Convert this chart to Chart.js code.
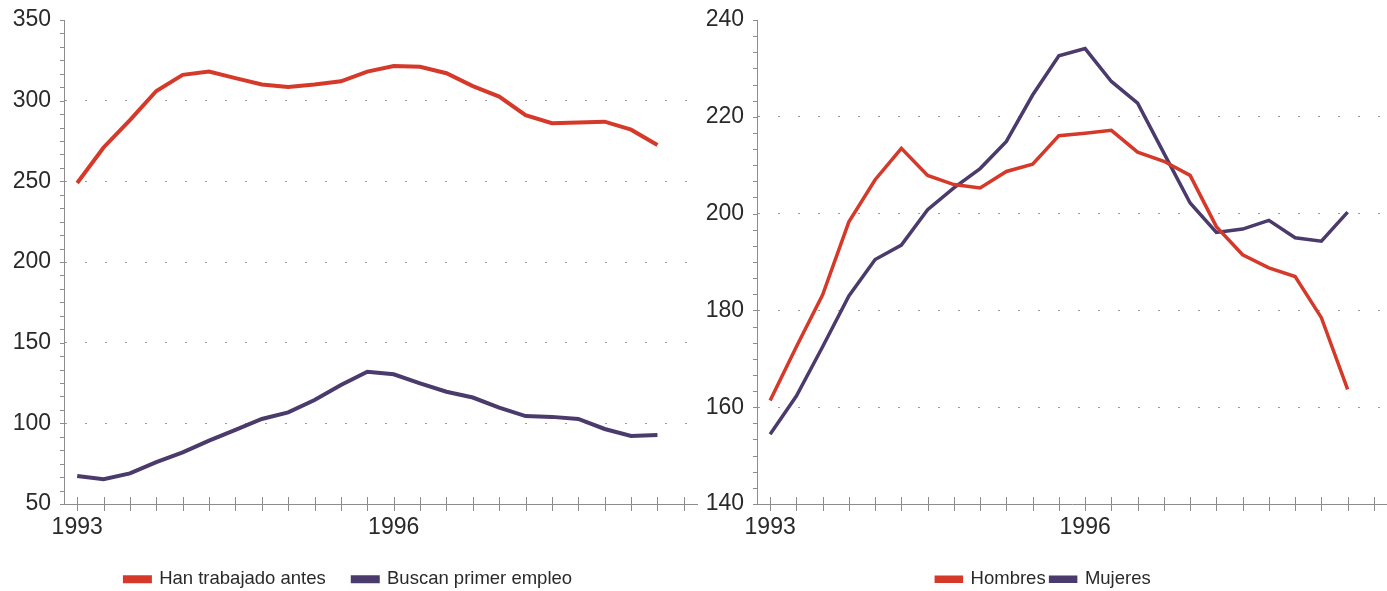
<!DOCTYPE html>
<html>
<head>
<meta charset="utf-8">
<script src="https://cdn.jsdelivr.net/npm/chart.js@4.4.1/dist/chart.umd.min.js"></script>
<style>
  body { margin: 0; background: #fff; }
  .panel { position: absolute; top: 0; height: 591px; }
  #left { left: 0; width: 700px; }
  #right { left: 700px; width: 687px; }
</style>
</head>
<body>
<div class="panel" id="left"><canvas id="paro"></canvas></div>
<div class="panel" id="right"><canvas id="sexo"></canvas></div>
<script>
// trimestres 1993-I .. 1998-IV (el último sin dato)
const periods = [
  '1993 I', '1993 II', '1993 III', '1993 IV',
  '1994 I', '1994 II', '1994 III', '1994 IV',
  '1995 I', '1995 II', '1995 III', '1995 IV',
  '1996 I', '1996 II', '1996 III', '1996 IV',
  '1997 I', '1997 II', '1997 III', '1997 IV',
  '1998 I', '1998 II', '1998 III', '1998 IV'
];
const shownYears = ['1993', '1996'];

const hanTrabajado = [249, 271, 288, 306, 316, 318, 314, 310, 308.5, 310, 312, 318,
  321.5, 321, 317, 309, 302.5, 291, 286, 286.5, 287, 282, 272.5];
const buscanPrimer = [67.4, 65.3, 69, 76, 82, 89.3, 96, 102.7, 106.8, 114.5, 123.8, 132,
  130.4, 124.8, 119.6, 116, 109.7, 104.5, 104, 102.7, 96.5, 92.2, 92.8];

const hombres = [161.4, 172.5, 183.2, 198.3, 207, 213.5, 207.9, 206, 205.3, 208.7, 210.2, 216.1,
  216.6, 217.2, 212.7, 210.8, 207.9, 197.3, 191.5, 188.8, 187, 178.5, 163.7];
const mujeres = [154.4, 162.3, 172.5, 183, 190.5, 193.5, 200.8, 205.3, 209.3, 214.9, 224.5, 232.6,
  234.1, 227.3, 222.8, 212.5, 202.2, 196.1, 196.8, 198.6, 195, 194.3, 200.3];

const RED = '#d5392a';
const PURPLE = '#4a3b6c';
const AXIS = '#8c8c8c';
const FONT = '"Liberation Sans", Arial, sans-serif';

// marcas menores del eje Y y marcas cruzadas del eje X
const axisMarks = {
  id: 'axisMarks',
  beforeDatasetsDraw(chart) {
    const { ctx, scales: { x, y } } = chart;
    const step = chart.options.scales.y.ticks.stepSize / 6;
    ctx.save();
    ctx.strokeStyle = AXIS;
    ctx.lineWidth = 1;
    ctx.beginPath();
    for (let v = y.min; v <= y.max + 0.001; v += step) {
      const py = Math.round(y.getPixelForValue(v)) + 0.5;
      ctx.moveTo(y.right - 4, py);
      ctx.lineTo(y.right, py);
    }
    for (let i = 0; i < x.ticks.length; i++) {
      const px = Math.round(x.getPixelForTick(i)) + 0.5;
      ctx.moveTo(px, x.top - 7);
      ctx.lineTo(px, x.top + 7);
    }
    ctx.stroke();
    ctx.restore();
  }
};

function makeChart(id, series, yMin, yMax, yStep, yWidth, xHeight, legendPad, legendMax, padRight, lineW) {
  return new Chart(document.getElementById(id), {
    type: 'line',
    data: {
      labels: periods,
      datasets: series.map(s => ({
        label: s.label,
        data: s.data,
        borderColor: s.color,
        backgroundColor: s.color,
        borderWidth: lineW,
        pointRadius: 0,
        tension: 0
      }))
    },
    options: {
      responsive: true,
      maintainAspectRatio: false,
      animation: false,
      layout: { padding: { top: 20, right: padRight, bottom: 0, left: 0 } },
      plugins: {
        tooltip: { enabled: false },
        legend: {
          position: 'bottom',
          maxHeight: legendMax,
          labels: {
            boxWidth: 25,
            boxHeight: 4,
            padding: legendPad,
            color: '#2a2a2a',
            font: { family: FONT, size: 18.5 }
          }
        }
      },
      scales: {
        x: {
          offset: true,
          afterFit: s => { s.height = xHeight; },
          grid: { display: false, drawTicks: false },
          border: { color: AXIS, width: 1 },
          ticks: {
            autoSkip: false,
            maxRotation: 0,
            padding: 10,
            color: '#2a2a2a',
            font: { family: FONT, size: 23 },
            callback: (v, i) => {
              const [yr, q] = periods[i].split(' ');
              return q === 'I' && shownYears.includes(yr) ? yr : '';
            }
          }
        },
        y: {
          min: yMin,
          max: yMax,
          afterFit: s => { s.width = yWidth; },
          border: { color: AXIS, width: 1, dash: [2, 18] },
          grid: {
            drawTicks: true,
            tickLength: 13,
            tickColor: 'rgba(0,0,0,0)',
            lineWidth: 1,
            color: c => (c.tick.value === yMin || c.tick.value === yMax) ? 'rgba(0,0,0,0)' : '#9a9a9a'
          },
          ticks: {
            stepSize: yStep,
            padding: 0,
            color: '#2a2a2a',
            font: { family: FONT, size: 23 }
          }
        }
      }
    },
    plugins: [axisMarks]
  });
}

makeChart('paro', [
  { label: 'Han trabajado antes', data: hanTrabajado, color: RED },
  { label: 'Buscan primer empleo', data: buscanPrimer, color: PURPLE }
], 50, 350, 50, 64, 39, 27, 48, 3, 4);

makeChart('sexo', [
  { label: 'Hombres', data: hombres, color: RED },
  { label: 'Mujeres', data: mujeres, color: PURPLE }
], 140, 240, 20, 57, 61, 5, 26, 0, 3.5);
</script>
</body>
</html>
